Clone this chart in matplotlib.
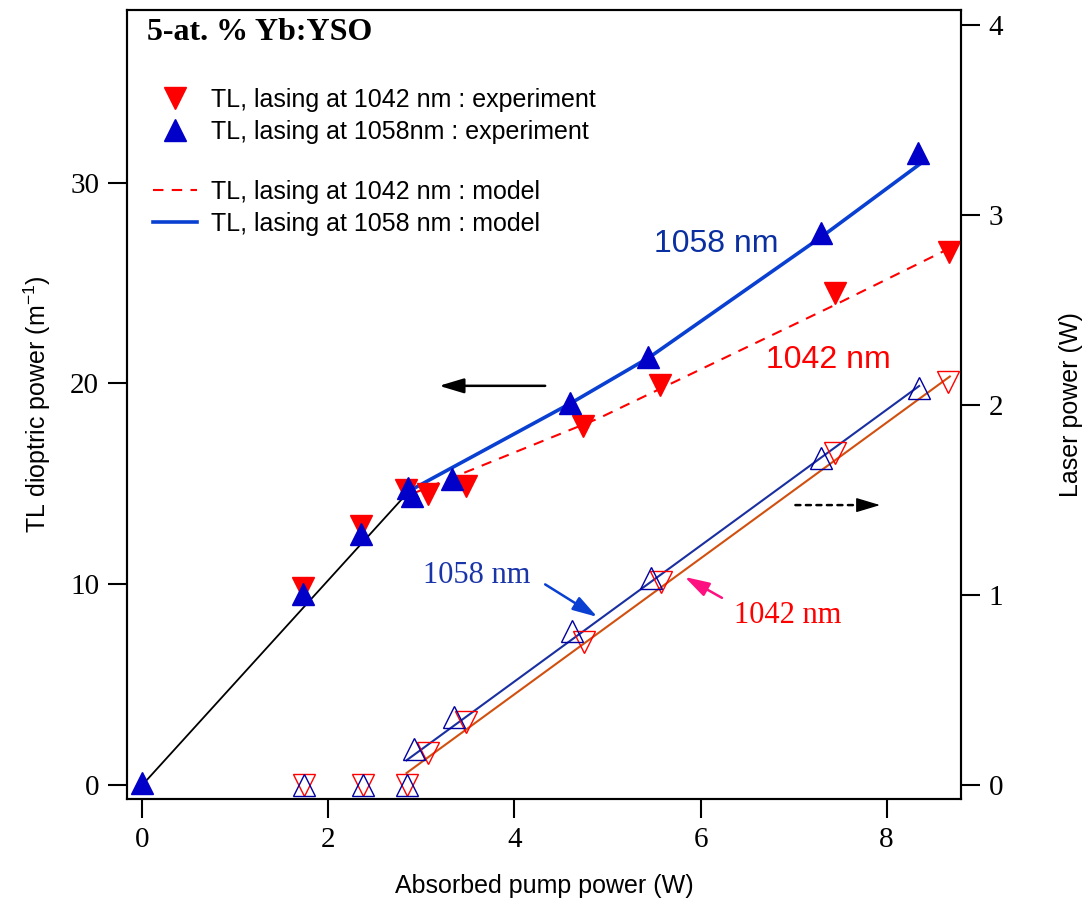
import matplotlib
matplotlib.use("Agg")
import matplotlib.pyplot as plt

SERIF = ["Liberation Serif", "DejaVu Serif"]
SANS = ["Liberation Sans Narrow", "Liberation Sans", "DejaVu Sans"]

# ---- data: TL dioptric power (left axis, m^-1) ----
tl_1042_x = [1.73, 2.35, 2.83, 3.07, 3.48, 4.74, 5.56, 7.45, 8.67]
tl_1042_y = [9.8, 12.9, 14.7, 14.5, 14.9, 17.9, 19.9, 24.5, 26.55]
tl_1058_x = [0.0, 1.73, 2.35, 2.86, 2.9, 3.33, 4.6, 5.44, 7.29, 8.34]
tl_1058_y = [0.1, 9.5, 12.5, 14.8, 14.4, 15.25, 19.0, 21.3, 27.5, 31.5]

model_low_x = [0.0, 2.9]
model_low_y = [0.0, 14.8]
model_1042_x = [2.9, 4.9, 7.44, 8.62]
model_1042_y = [14.5, 18.25, 23.9, 26.6]
model_1058_x = [2.91, 4.6, 5.45, 7.3, 8.35]
model_1058_y = [14.75, 19.0, 21.3, 27.3, 30.9]

# ---- data: laser power (right axis, W) ----
lp_1042_x = [1.74, 2.37, 2.84, 3.07, 3.48, 4.75, 5.58, 7.45, 8.66]
lp_1042_y = [0.0, 0.0, 0.0, 0.17, 0.33, 0.75, 1.07, 1.75, 2.12]
lp_1058_x = [1.74, 2.37, 2.84, 2.92, 3.35, 4.62, 5.47, 7.29, 8.35]
lp_1058_y = [0.0, 0.0, 0.0, 0.19, 0.36, 0.81, 1.09, 1.72, 2.09]
fit_1042_x = [2.84, 8.68]
fit_1042_y = [0.063, 2.15]
fit_1058_x = [2.84, 8.35]
fit_1058_y = [0.13, 2.10]

xticks = [0, 2, 4, 6, 8]
yticks_left = [0, 10, 20, 30]
yticks_right = [0, 1, 2, 3, 4]

fig = plt.figure(figsize=(10.83, 9.08), dpi=100)
ax = fig.add_axes([127/1083, 1-799/908, (961-127)/1083, (799-10)/908])
ax2 = ax.twinx()

ax.set_xlim(-0.165, 8.80)
ax.set_ylim(-0.7, 38.6)
ax2.set_ylim(-0.0737, 4.079)

BLUE_M = "#0000c8"
BLUE_L = "#0a40d2"
RED = "#ff0000"

# left axis curves
ax.plot(model_low_x, model_low_y, color="black", lw=1.3, zorder=2)
ax.plot(model_1042_x, model_1042_y, color=RED, lw=1.5, ls=(0, (5, 4)), zorder=2,
        label="TL, lasing at 1042 nm : model")
ax.plot(model_1058_x, model_1058_y, color=BLUE_L, lw=2.6, zorder=2,
        label="TL, lasing at 1058 nm : model")
ax.plot(tl_1042_x, tl_1042_y, ls="none", marker="v", ms=16, color=RED, mec=RED, zorder=3,
        label="TL, lasing at 1042 nm : experiment")
ax.plot(tl_1058_x, tl_1058_y, ls="none", marker="^", ms=16, color=BLUE_M, mec=BLUE_M, zorder=4,
        label="TL, lasing at 1058nm : experiment")

# right axis curves
ax2.plot(fit_1058_x, fit_1058_y, color="#1a2fa0", lw=1.5, zorder=2)
ax2.plot(fit_1042_x, fit_1042_y, color="#d2500f", lw=1.5, zorder=2)
ax2.plot(lp_1042_x, lp_1042_y, ls="none", marker="v", ms=16, mfc="none", mec=RED, mew=1.0, zorder=3)
ax2.plot(lp_1058_x, lp_1058_y, ls="none", marker="^", ms=16, mfc="none", mec="#0000a0", mew=1.0, zorder=3)

# ticks
for a in (ax, ax2):
    a.tick_params(direction="out", length=14, width=1.5)
    for s in a.spines.values():
        s.set_linewidth(1.5)
ax.set_xticks(xticks)
ax.set_yticks(yticks_left)
ax2.set_yticks(yticks_right)
ax.tick_params(axis="both", labelsize=21, pad=6)
ax2.tick_params(axis="y", labelsize=21, pad=6)
for lab in ax.get_xticklabels() + ax.get_yticklabels() + ax2.get_yticklabels():
    lab.set_fontfamily(SERIF)

ax.set_xlabel("Absorbed pump power (W)", fontsize=18, family=SANS, labelpad=15)
ax.set_ylabel("TL dioptric power (m$^{\\mathregular{-1}}$)", fontsize=18, family=SANS, labelpad=12)
ax2.set_ylabel("Laser power (W)", fontsize=18, family=SANS, labelpad=40)

# title inside
ax.text(0.024, 0.971, "5-at. % Yb:YSO", transform=ax.transAxes, fontsize=23,
        fontweight="bold", family=SERIF, ha="left", va="center")

# legends
h, l = ax.get_legend_handles_labels()
order_exp = [2, 3]
order_mod = [0, 1]
leg_kw = dict(frameon=False, prop={"family": SANS, "size": 18}, handlelength=1.76,
              handletextpad=0.55, borderpad=0, borderaxespad=0, labelspacing=0.32,
              loc="upper left", bbox_transform=fig.transFigure)
leg1 = ax.legend([h[i] for i in order_exp], [l[i] for i in order_exp],
                 bbox_to_anchor=(153/1083, 1-88/908), **leg_kw)
ax.add_artist(leg1)
leg2 = ax.legend([h[i] for i in order_mod], [l[i] for i in order_mod],
                 bbox_to_anchor=(153/1083, 1-180/908), **leg_kw)

# annotations
ax.text(6.17, 26.95, "1058 nm", color="#0a2fa0", fontsize=23, family=SANS, ha="center", va="center")
ax.text(7.37, 21.17, "1042 nm", color=RED, fontsize=23, family=SANS, ha="center", va="center")
ax.text(3.59, 10.41, "1058 nm", color="#1a35a8", fontsize=22, family=SERIF, ha="center", va="center")
ax.text(6.94, 8.42, "1042 nm", color=RED, fontsize=22, family=SERIF, ha="center", va="center")

head = "-|>,head_length=1.5,head_width=0.45"
ax.annotate("", xy=(3.19, 19.88), xytext=(4.33, 19.88),
            arrowprops=dict(arrowstyle=head, color="black", lw=1.8, shrinkA=0, shrinkB=0))
ax.annotate("", xy=(7.75, 13.94), xytext=(7.02, 13.94),
            arrowprops=dict(arrowstyle="-", color="black", lw=1.8, ls=(0, (2, 2.2)),
                            shrinkA=0, shrinkB=0))
ax.annotate("", xy=(7.93, 13.94), xytext=(7.70, 13.94),
            arrowprops=dict(arrowstyle=head, color="black", lw=1.0, shrinkA=0, shrinkB=0))
ax.annotate("", xy=(4.89, 8.37), xytext=(4.33, 9.99),
            arrowprops=dict(arrowstyle=head, color=BLUE_L, lw=1.8, shrinkA=0, shrinkB=0))
ax.annotate("", xy=(5.83, 10.36), xytext=(6.23, 9.32),
            arrowprops=dict(arrowstyle=head, color="#ff1080", lw=1.8, shrinkA=0, shrinkB=0))

fig.savefig("out.png", dpi=100)
